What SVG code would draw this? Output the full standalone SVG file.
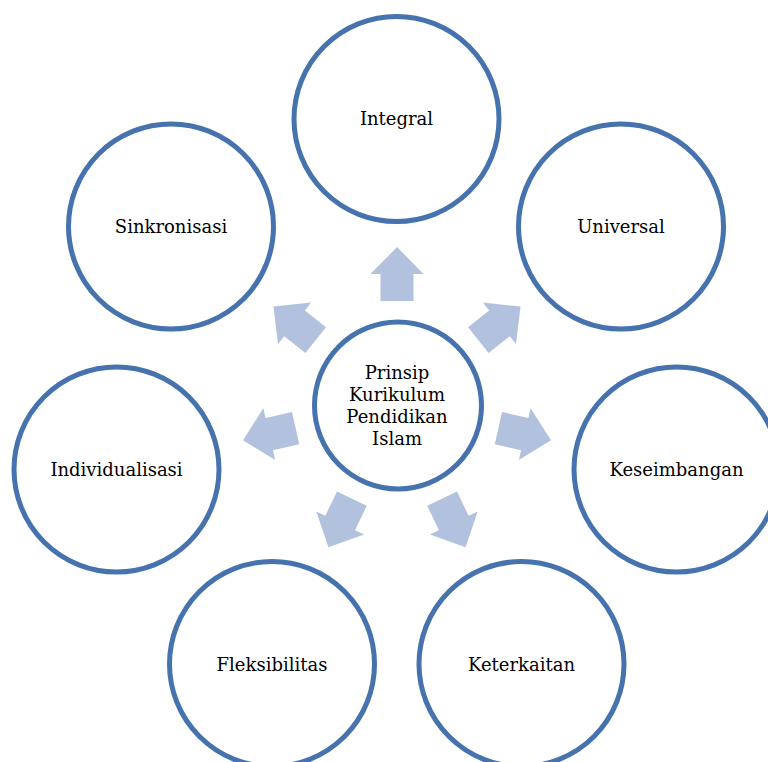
<svg xmlns="http://www.w3.org/2000/svg" xmlns:xlink="http://www.w3.org/1999/xlink" width="768" height="762" viewBox="0 0 768 762">
<style>
.c{fill:#ffffff;stroke:#4672AD;stroke-width:5}
.t{font-family:"DejaVu Serif","Liberation Serif",serif;font-size:18px;fill:#000000;text-anchor:middle}
.a{fill:#B2C2DE}
</style>
<defs>
<polygon id="arr" points="0,-158 26.5,-131 16.5,-131 16.5,-104 -16.5,-104 -16.5,-131 -26.5,-131"/>
</defs>
<rect width="768" height="762" fill="#ffffff"/>
<g id="connectors">
<use xlink:href="#arr" class="a" transform="translate(397,405) rotate(0)"/>
<use xlink:href="#arr" class="a" transform="translate(397,405) rotate(51.43)"/>
<use xlink:href="#arr" class="a" transform="translate(397,405) rotate(102.86)"/>
<use xlink:href="#arr" class="a" transform="translate(397,405) rotate(154.29)"/>
<use xlink:href="#arr" class="a" transform="translate(397,405) rotate(205.71)"/>
<use xlink:href="#arr" class="a" transform="translate(397,405) rotate(257.14)"/>
<use xlink:href="#arr" class="a" transform="translate(397,405) rotate(308.57)"/>
</g>
<g id="center">
<circle class="c" cx="398" cy="405.5" r="83.5"/>
<text class="t"><tspan x="397" y="379">Prinsip</tspan><tspan x="397" y="401">Kurikulum</tspan><tspan x="397" y="423">Pendidikan</tspan><tspan x="397" y="445">Islam</tspan></text>
</g>
<g id="integral">
<circle class="c" cx="396.5" cy="119" r="102.5"/>
<text class="t" x="396.5" y="125">Integral</text>
</g>
<g id="universal">
<circle class="c" cx="621" cy="226.5" r="102.5"/>
<text class="t" x="621" y="233">Universal</text>
</g>
<g id="keseimbangan">
<circle class="c" cx="676.5" cy="469.5" r="102.5"/>
<text class="t" x="676.5" y="476">Keseimbangan</text>
</g>
<g id="keterkaitan">
<circle class="c" cx="521.5" cy="664" r="102.5"/>
<text class="t" x="521.5" y="670.5">Keterkaitan</text>
</g>
<g id="fleksibilitas">
<circle class="c" cx="272" cy="664" r="102.5"/>
<text class="t" x="272" y="670.5">Fleksibilitas</text>
</g>
<g id="individualisasi">
<circle class="c" cx="116.5" cy="469.5" r="102.5"/>
<text class="t" x="116.5" y="476">Individualisasi</text>
</g>
<g id="sinkronisasi">
<circle class="c" cx="171" cy="226.5" r="102.5"/>
<text class="t" x="171" y="233">Sinkronisasi</text>
</g>
</svg>
